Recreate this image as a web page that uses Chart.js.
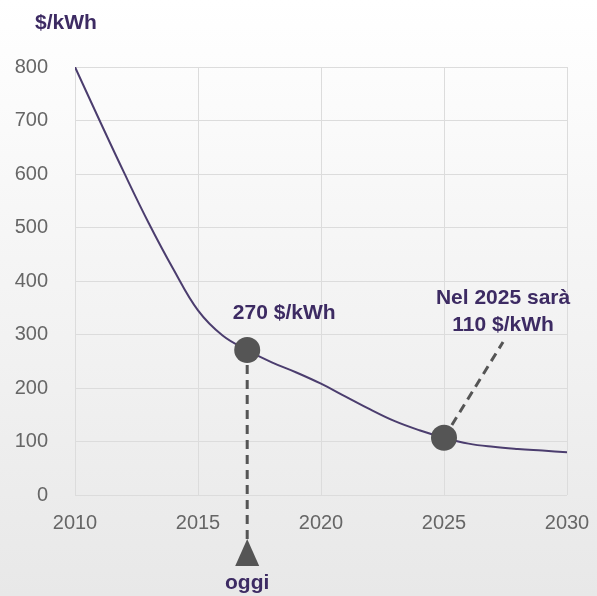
<!DOCTYPE html>
<html>
<head>
<meta charset="utf-8">
<script src="https://cdn.jsdelivr.net/npm/chart.js@4"></script>
<style>
  html, body { margin: 0; padding: 0; background: #fff; }
  #wrap { width: 597px; height: 596px; }
</style>
</head>
<body>
<div id="wrap"><canvas id="chart" width="597" height="596"></canvas></div>
<script>
'use strict';

// Battery pack price, $/kWh
var years = [2010, 2011, 2012, 2013, 2014, 2015, 2016, 2017, 2018, 2019, 2020,
             2021, 2022, 2023, 2024, 2025, 2026, 2027, 2028, 2029, 2030];
var prices = [800, 700, 602, 508, 422, 345, 298, 271, 248, 229, 208,
              184, 160, 138, 121, 107, 96, 90, 86, 83, 80];

// highlighted points
var markYears = [2017, 2025];
var markPrices = [271, 107];

// end of the leader line from the 2025 point to its label
var leaderEnd = { x: 2027.4, y: 286 };

var xTicks = [2010, 2015, 2020, 2025, 2030];
var purple = '#3d2b63';
var tickFont = { family: 'Liberation Sans, Arial, sans-serif', size: 20 };
var labelFont = 'bold 21px Liberation Sans, Arial, sans-serif';

var points = years.map(function(y, i) { return { x: y, y: prices[i] }; });
var marks = markYears.map(function(y, i) { return { x: y, y: markPrices[i] }; });

var background = {
  id: 'background',
  beforeDraw: function(chart) {
    var ctx = chart.ctx;
    var g = ctx.createLinearGradient(0, 0, 0, chart.height);
    g.addColorStop(0, '#ffffff');
    g.addColorStop(1, '#e8e8e8');
    ctx.save();
    ctx.fillStyle = g;
    ctx.fillRect(0, 0, chart.width, chart.height);
    ctx.restore();
  }
};

// Dashed leaders, the "today" arrow and the text labels
var annotations = {
  id: 'annotations',
  beforeDatasetsDraw: function(chart) {
    var ctx = chart.ctx;
    var xs = chart.scales.x, ys = chart.scales.y;
    var todayX = xs.getPixelForValue(markYears[0]);
    var todayY = ys.getPixelForValue(markPrices[0]);
    var bottom = ys.bottom;

    ctx.save();
    ctx.strokeStyle = '#555';
    ctx.lineWidth = 3;
    ctx.setLineDash([9, 6]);
    ctx.beginPath();
    ctx.moveTo(todayX, todayY);
    ctx.lineTo(todayX, bottom + 46);
    ctx.stroke();

    ctx.beginPath();
    ctx.moveTo(xs.getPixelForValue(markYears[1]), ys.getPixelForValue(markPrices[1]));
    ctx.lineTo(xs.getPixelForValue(leaderEnd.x), ys.getPixelForValue(leaderEnd.y));
    ctx.stroke();
    ctx.restore();
  },
  afterDraw: function(chart) {
    var ctx = chart.ctx;
    var xs = chart.scales.x, ys = chart.scales.y;
    var todayX = xs.getPixelForValue(markYears[0]);
    var bottom = ys.bottom;

    ctx.save();
    ctx.fillStyle = '#555';
    ctx.beginPath();
    ctx.moveTo(todayX, bottom + 44);
    ctx.lineTo(todayX + 12, bottom + 71);
    ctx.lineTo(todayX - 12, bottom + 71);
    ctx.closePath();
    ctx.fill();

    ctx.fillStyle = purple;
    ctx.font = labelFont;
    ctx.textAlign = 'center';
    ctx.textBaseline = 'middle';
    ctx.fillText('oggi', todayX, bottom + 88);
    ctx.fillText('270 $/kWh', todayX + 37, ys.getPixelForValue(340));
    var lx = xs.getPixelForValue(leaderEnd.x);
    ctx.fillText('Nel 2025 sarà', lx, ys.getPixelForValue(367));
    ctx.fillText('110 $/kWh', lx, ys.getPixelForValue(318));
    ctx.textAlign = 'left';
    ctx.fillText('$/kWh', 35, 23);
    ctx.restore();
  }
};

new Chart(document.getElementById('chart').getContext('2d'), {
  type: 'line',
  data: {
    datasets: [
      {
        data: marks,
        showLine: false,
        pointRadius: 13,
        pointHoverRadius: 13,
        pointBackgroundColor: '#555',
        pointBorderWidth: 0
      },
      {
        data: points,
        borderColor: '#4b3d6e',
        borderWidth: 2,
        pointRadius: 0,
        tension: 0.4,
        fill: false
      }
    ]
  },
  options: {
    responsive: false,
    animation: false,
    layout: { padding: { top: 67, right: 30, left: 0, bottom: 0 } },
    plugins: { legend: { display: false }, tooltip: { enabled: false } },
    scales: {
      x: {
        type: 'linear',
        min: 2010,
        max: 2030,
        afterFit: function(scale) {
          scale.height = 101;
          // let the edge labels hang over; the layout padding keeps them in
          scale.paddingLeft = 0;
          scale.paddingRight = 0;
        },
        afterBuildTicks: function(scale) {
          scale.ticks = xTicks.map(function(v) { return { value: v }; });
        },
        ticks: {
          color: '#666',
          font: tickFont,
          padding: 16,
          maxRotation: 0,
          callback: function(v) { return String(v); }
        },
        grid: { color: '#dcdcdc', drawTicks: false },
        border: { display: false }
      },
      y: {
        min: 0,
        max: 800,
        afterFit: function(scale) { scale.width = 75; },
        ticks: { stepSize: 100, color: '#666', font: tickFont, padding: 27 },
        grid: { color: '#dcdcdc', drawTicks: false },
        border: { display: false }
      }
    }
  },
  plugins: [background, annotations]
});
</script>
</body>
</html>
